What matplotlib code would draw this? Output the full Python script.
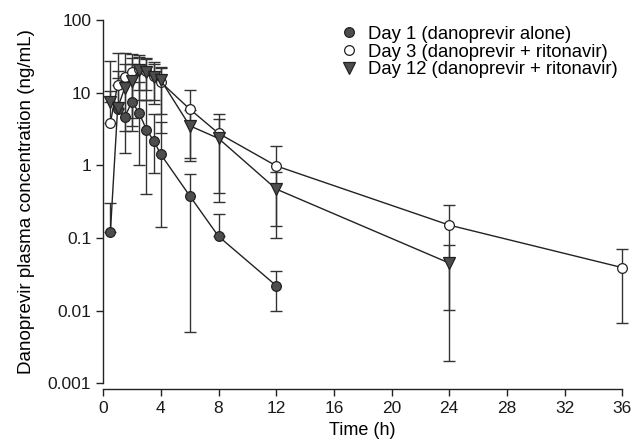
import matplotlib
matplotlib.use("Agg")
import matplotlib.pyplot as plt
from matplotlib.ticker import FixedLocator, FuncFormatter, NullLocator
import numpy as np

plt.rcParams["font.family"] = ["Liberation Sans", "DejaVu Sans"]
plt.rcParams["font.size"] = 12

# Day 1 (danoprevir alone)
t_day1 = [0.5, 1, 1.5, 2, 2.5, 3, 3.5, 4, 6, 8, 12]
c_day1 = [0.12, 6.0, 4.66, 7.5, 5.2, 3.1, 2.18, 1.41, 0.38, 0.105, 0.022]
up_day1 = [0.30, 16, 17, 25, 14, 8, 5, 4, 0.76, 0.21, 0.035]
lo_day1 = [None, None, 1.47, 3.0, 1.0, 0.40, 0.78, 0.14, 0.005, None, 0.0098]

# Day 3 (danoprevir + ritonavir)
t_day3 = [0.5, 1, 1.5, 2, 2.5, 3, 3.5, 4, 6, 8, 12, 24, 36]
c_day3 = [3.85, 12.7, 16.6, 19, 21, 20, 17, 13.9, 5.94, 2.75, 0.98, 0.15, 0.039]
up_day3 = [10.5, 35.5, 34.8, 33.7, 31, 29, 26, 22.7, 11, 5.0, 1.86, 0.286, 0.070]
lo_day3 = [None, None, None, 4.5, 11, 11, 8, 5, 1.24, 0.42, 0.10, 0.0103, 0.0068]

# Day 12 (danoprevir + ritonavir)
t_day12 = [0.5, 1, 1.5, 2, 2.5, 3, 3.5, 4, 6, 8, 12, 24]
c_day12 = [7.5, 6.1, 11.7, 14.6, 20.5, 19, 16.2, 14.9, 3.5, 2.34, 0.47, 0.045]
up_day12 = [27.5, 20, 25, 30, 33, 30, 25, 22, 5.8, 4.3, 0.8, 0.081]
lo_day12 = [None, None, 3.0, 3.5, 8, 8, 7, 2.8, 1.16, 0.31, 0.144, 0.002]

labels = ["Day 1 (danoprevir alone)",
          "Day 3 (danoprevir + ritonavir)",
          "Day 12 (danoprevir + ritonavir)"]


def errs(c, up, lo):
    c = np.array(c, float)
    hi = np.array(up, float) - c
    low = np.array([ci - l if l is not None else 0.0 for ci, l in zip(c, lo)])
    return [low, hi]


fig = plt.figure(figsize=(6.33, 4.44), dpi=100)
ax = fig.add_axes([0.163, 0.137, 0.820, 0.818])
ax.set_yscale("log")

series = [
    (t_day1, c_day1, up_day1, lo_day1, "o", "#4d4d4d", 7),
    (t_day3, c_day3, up_day3, lo_day3, "o", "white", 7),
    (t_day12, c_day12, up_day12, lo_day12, "v", "#4d4d4d", 8),
]
for (t, c, up, lo, m, fc, ms), lab in zip(series, labels):
    ax.errorbar(t, c, yerr=errs(c, up, lo), fmt="none", ecolor="#333333",
                elinewidth=1.0, capsize=4.5, capthick=1.0, clip_on=False, zorder=2)
    ax.plot(t, c, color="#222222", lw=1.0, marker=m, markersize=ms,
            markerfacecolor=fc, markeredgecolor="#222222", markeredgewidth=0.9,
            label=lab, clip_on=False, zorder=3)

ax.set_xlim(0, 36)
ax.set_ylim(0.001, 100)
ax.set_xticks(np.arange(0, 37, 4))
ax.yaxis.set_major_locator(FixedLocator([0.001, 0.01, 0.1, 1, 10, 100]))
ax.yaxis.set_minor_locator(NullLocator())
ax.yaxis.set_major_formatter(FuncFormatter(lambda v, p: "%g" % v))

for s in ["top", "right"]:
    ax.spines[s].set_visible(False)
ax.spines["bottom"].set_position(("outward", 4))
for s in ["left", "bottom"]:
    ax.spines[s].set_linewidth(1.0)
    ax.spines[s].set_color("#222222")
ax.tick_params(direction="out", length=5, width=1.0, color="#222222",
               labelcolor="#1a1a1a", pad=3.5, labelsize=12.5)

ax.set_xlabel("Time (h)", labelpad=5, fontsize=13)
ax.set_ylabel("Danoprevir plasma concentration (ng/mL)", labelpad=9, fontsize=13.5)

ax.legend(loc="upper right", bbox_to_anchor=(1.012, 1.015), frameon=False,
          handlelength=0.8, handletextpad=0.6, labelspacing=0.05,
          borderaxespad=0.2, fontsize=13.3)
# drop lines from legend handles
for h in ax.get_legend().legend_handles:
    h.set_linestyle("none")

fig.savefig("out.png", dpi=100)
